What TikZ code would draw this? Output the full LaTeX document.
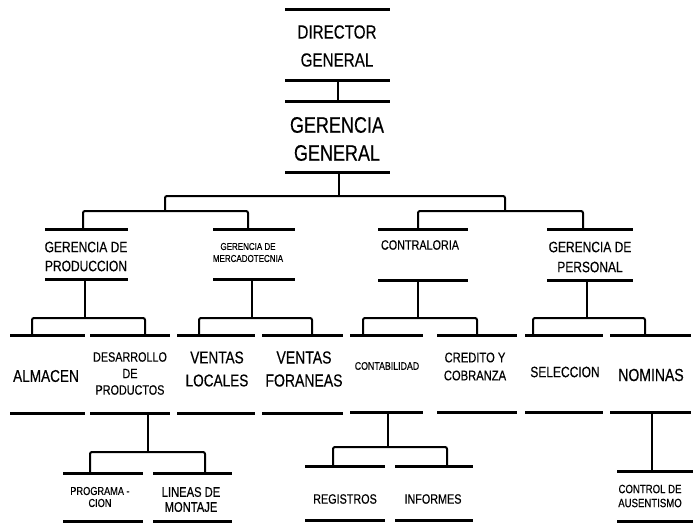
\documentclass[tikz,border=0pt]{standalone}
\usepackage{fontspec}
\setmainfont[FakeStretch=0.8,FakeBold=0.35]{Liberation Sans}
\tikzset{
  frame/.style={inner sep=0pt, outer sep=0pt, draw=none},
  bar/.style={line width=3pt},
  conn/.style={line width=2pt, rounded corners=2pt},
  lbl/.style={align=center, inner sep=0pt}
}
\newcommand{\fsz}[2]{\fontsize{#1}{#2}\selectfont}
\newcommand{\orgframe}[5]{%
  \node[frame, minimum width={#3-#2}, minimum height={#5-#4}] (#1) at ({(#2+#3)/2},{(#4+#5)/2}) {};
  \draw[bar] (#1.north west) -- (#1.north east);
  \draw[bar] (#1.south west) -- (#1.south east);
}
\begin{document}
\begin{tikzpicture}[x=1pt,y=-1pt]
\useasboundingbox (0,0) rectangle (693,527);
% level 0
\orgframe{dg}{285}{390}{10}{80}
\node[lbl,font=\fsz{19}{28}] (dgt) at (337,46) {DIRECTOR\\GENERAL};
\orgframe{gg}{285}{390}{101}{172}
\node[lbl,font=\fsz{22.5}{28}] (ggt) at (337,139) {GERENCIA\\GENERAL};
% level 1
\orgframe{prod}{45}{128}{229}{279}
\node[lbl,font=\fsz{15}{19}] (prodt) at (86,256.5) {GERENCIA DE\\PRODUCCION};
\orgframe{merc}{213}{295}{229}{279}
\node[lbl,font=\fsz{10}{12}] (merct) at (248,252.5) {GERENCIA DE\\MERCADOTECNIA};
\orgframe{cont}{378}{468}{229}{280}
\node[lbl,font=\fsz{13.5}{16}] (contt) at (420,245) {CONTRALORIA};
\orgframe{pers}{547}{633}{229}{280}
\node[lbl,font=\fsz{15}{20}] (perst) at (590,257) {GERENCIA DE\\PERSONAL};
% level 2
\orgframe{alm}{10}{85}{335}{413}
\node[lbl,font=\fsz{17}{20}] (almt) at (46,376) {ALMACEN};
\orgframe{des}{90}{170}{335}{413}
\node[lbl,font=\fsz{13.5}{16.5}] (dest) at (130,373.5) {DESARROLLO\\DE\\PRODUCTOS};
\orgframe{vloc}{177}{255}{335}{413}
\node[lbl,font=\fsz{17}{23}] (vloct) at (217,369) {VENTAS\\LOCALES};
\orgframe{vfor}{262}{343}{335}{413}
\node[lbl,font=\fsz{17.5}{23}] (vfort) at (304,369) {VENTAS\\FORANEAS};
\orgframe{contab}{350}{423}{335}{412}
\node[lbl,font=\fsz{11}{14}] (contabt) at (387,366) {CONTABILIDAD};
\orgframe{cred}{437}{517}{335}{412}
\node[lbl,font=\fsz{14}{18}] (credt) at (475,366.5) {CREDITO Y\\COBRANZA};
\orgframe{sel}{525}{603}{335}{412}
\node[lbl,font=\fsz{15}{18}] (selt) at (565,372) {SELECCION};
\orgframe{nom}{610}{691}{335}{412}
\node[lbl,font=\fsz{17.5}{20}] (nomt) at (651,375) {NOMINAS};
% level 3
\orgframe{prog}{63}{143}{473}{521}
\node[lbl,font=\fsz{11.5}{12}] (progt) at (100,497) {PROGRAMA -\\CION};
\orgframe{lin}{153}{232}{473}{521}
\node[lbl,font=\fsz{14}{15}] (lint) at (191,499.5) {LINEAS DE\\MONTAJE};
\orgframe{reg}{305}{385}{466}{520}
\node[lbl,font=\fsz{13.5}{16}] (regt) at (345,499) {REGISTROS};
\orgframe{inf}{395}{473}{466}{520}
\node[lbl,font=\fsz{13.5}{16}] (inft) at (433,499) {INFORMES};
\orgframe{ctrl}{617}{693}{471}{521}
\node[lbl,font=\fsz{12}{14}] (ctrlt) at (650,496) {CONTROL DE\\AUSENTISMO};
% connectors level 0-1
\draw[conn] (dg.south) -- (gg.north);
\coordinate (b0l) at (165,196);
\coordinate (b0r) at (505,196);
\coordinate (b1l) at (83,211);
\coordinate (b1r) at (248,211);
\coordinate (b2l) at (418,211);
\coordinate (b2r) at (583,211);
\draw[conn] (gg.south -| 339,0) -- (339,196);
\draw[conn] (b1l -| b0l) -- (b0l) -- (b0r) -- (b2r -| b0r);
\draw[conn] (prod.north -| b1l) -- (b1l) -- (b1r) -- (merc.north -| b1r);
\draw[conn] (cont.north -| b2l) -- (b2l) -- (b2r) -- (pers.north -| b2r);
% level 1-2
\coordinate (p1) at (85,318);  \coordinate (p1l) at (32,318);  \coordinate (p1r) at (145,318);
\coordinate (m1) at (252,318); \coordinate (m1l) at (199,318); \coordinate (m1r) at (312,318);
\coordinate (c1) at (418,318); \coordinate (c1l) at (363,318); \coordinate (c1r) at (477,318);
\coordinate (e1) at (587,318); \coordinate (e1l) at (533,318); \coordinate (e1r) at (645,318);
\draw[conn] (prod.south -| p1) -- (p1);
\draw[conn] (alm.north -| p1l) -- (p1l) -- (p1r) -- (des.north -| p1r);
\draw[conn] (merc.south -| m1) -- (m1);
\draw[conn] (vloc.north -| m1l) -- (m1l) -- (m1r) -- (vfor.north -| m1r);
\draw[conn] (cont.south -| c1) -- (c1);
\draw[conn] (contab.north -| c1l) -- (c1l) -- (c1r) -- (cred.north -| c1r);
\draw[conn] (pers.south -| e1) -- (e1);
\draw[conn] (sel.north -| e1l) -- (e1l) -- (e1r) -- (nom.north -| e1r);
% level 2-3
\coordinate (d2) at (148,452); \coordinate (d2l) at (90,452); \coordinate (d2r) at (205,452);
\coordinate (k2) at (388,447); \coordinate (k2l) at (333,447); \coordinate (k2r) at (447,447);
\draw[conn] (des.south -| d2) -- (d2);
\draw[conn] (prog.north -| d2l) -- (d2l) -- (d2r) -- (lin.north -| d2r);
\draw[conn] (contab.south -| k2) -- (k2);
\draw[conn] (reg.north -| k2l) -- (k2l) -- (k2r) -- (inf.north -| k2r);
\draw[conn] (nom.south -| 652,0) -- (ctrl.north -| 652,0);
\end{tikzpicture}
\end{document}
